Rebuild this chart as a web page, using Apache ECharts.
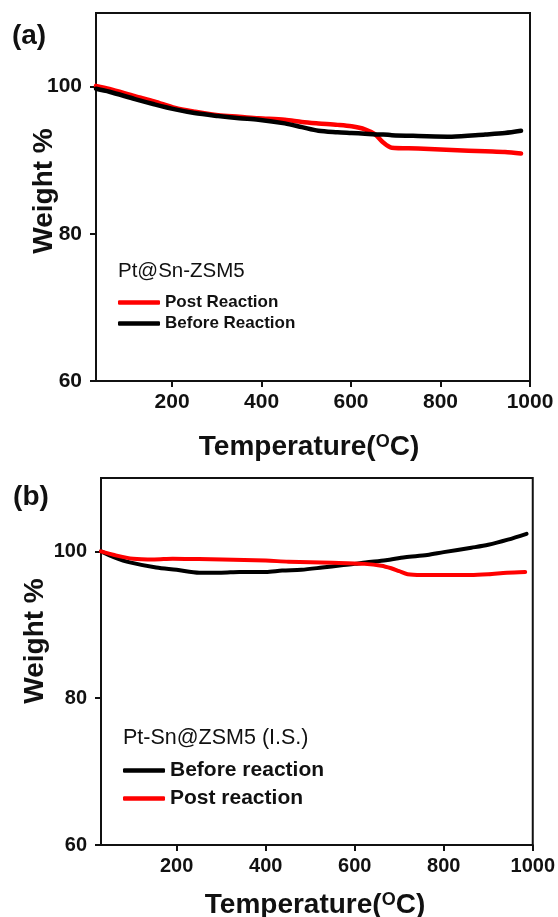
<!DOCTYPE html>
<html>
<head>
<meta charset="utf-8">
<title>TGA curves</title>
<script src="https://cdn.jsdelivr.net/npm/echarts@6/dist/echarts.min.js"></script>
<style>
  html, body { margin: 0; padding: 0; background: #fff; }
  #chart { width: 558px; height: 917px; }
</style>
</head>
<body>
<div id="chart"></div>
<script>
// Panel (a): Pt@Sn-ZSM5
const tempA   = [30, 60, 117, 160, 207, 250, 303, 350, 393, 452, 490, 527, 570, 601, 631, 654, 672, 691, 750, 825, 900, 944, 980];
const postA   = [100.1, 99.7, 98.7, 98.0, 97.1, 96.6, 96.1, 95.9, 95.7, 95.5, 95.2, 95.0, 94.8, 94.6, 94.2, 93.5, 92.4, 91.7, 91.6, 91.4, 91.2, 91.1, 90.9];
const beforeA = [99.7, 99.3, 98.3, 97.6, 96.9, 96.4, 96.0, 95.7, 95.5, 95.0, 94.5, 94.0, 93.8, 93.7, 93.6, 93.5, 93.5, 93.4, 93.3, 93.2, 93.5, 93.7, 94.0];

// Panel (b): Pt-Sn@ZSM5 (I.S.)
const tempBefB = [30, 60, 95, 154, 200, 251, 300, 341, 400, 437, 480, 527, 570, 600, 624, 670, 713, 763, 800, 862, 900, 944, 986];
const beforeB  = [100, 99.2, 98.5, 97.8, 97.5, 97.1, 97.1, 97.2, 97.2, 97.4, 97.5, 97.8, 98.1, 98.3, 98.5, 98.8, 99.2, 99.5, 99.9, 100.5, 100.9, 101.6, 102.4];
const tempPostB = [30, 60, 102, 150, 191, 250, 303, 400, 451, 550, 622, 660, 682, 700, 719, 750, 786, 860, 900, 942, 983];
const postB     = [100, 99.5, 99.0, 98.9, 99.0, 98.95, 98.9, 98.75, 98.6, 98.45, 98.3, 98.05, 97.7, 97.3, 96.9, 96.8, 96.8, 96.8, 96.9, 97.1, 97.2];

// Axis ticks
const xTicks = [200, 400, 600, 800, 1000];
const yTicks = [60, 80, 100];

const FONT = "'Liberation Sans', Arial, Helvetica, sans-serif";
const INK = '#111';
const RED = '#ff0000';
const BLACK = '#000000';

const zip = (xs, ys) => xs.map((x, i) => [x, ys[i]]);
const plain = v => String(v);

function xAxisFor(gridIndex, labelSize) {
  return {
    type: 'value', gridIndex, min: 30, max: 1000,
    axisLine: { show: true, lineStyle: { color: INK, width: 2 } },
    axisTick: { show: true, inside: false, length: 6, customValues: xTicks, lineStyle: { color: INK, width: 2 } },
    axisLabel: { customValues: xTicks, formatter: plain, margin: 11, fontSize: labelSize, fontWeight: 'bold', fontFamily: FONT, color: INK },
    splitLine: { show: false }
  };
}
function yAxisFor(gridIndex, labelSize) {
  return {
    type: 'value', gridIndex, min: 60, max: 110,
    axisLine: { show: true, lineStyle: { color: INK, width: 2 } },
    axisTick: { show: true, inside: false, length: 6, customValues: yTicks, lineStyle: { color: INK, width: 2 } },
    axisLabel: { customValues: yTicks, formatter: plain, margin: 14, fontSize: labelSize, fontWeight: 'bold', fontFamily: FONT, color: INK },
    splitLine: { show: false }
  };
}
function lineSeries(name, data, color, width, xi) {
  return {
    type: 'line', name, data, xAxisIndex: xi, yAxisIndex: xi,
    showSymbol: false, smooth: 0.3, color,
    lineStyle: { color, width, cap: 'round', join: 'round' }
  };
}
function textEl(text, x, y, size, weight, extra) {
  return Object.assign({
    type: 'text', x, y, silent: true,
    style: { text, fontSize: size, fontWeight: weight, fontFamily: FONT, fill: INK, align: 'center', verticalAlign: 'middle' }
  }, extra || {});
}
const supRich = { sup: { fontSize: 18, fontWeight: 'bold', fontFamily: FONT, fill: INK, verticalAlign: 'top' } };

const chart = echarts.init(document.getElementById('chart'), null, { renderer: 'canvas' });
chart.setOption({
  animation: false,
  backgroundColor: '#fff',
  grid: [
    { left: 96, top: 13, width: 434, height: 368, show: true, borderColor: INK, borderWidth: 2, containLabel: false },
    { left: 101, top: 478, width: 435, height: 367, show: true, borderColor: INK, borderWidth: 2, containLabel: false }
  ],
  xAxis: [xAxisFor(0, 21), xAxisFor(1, 20)],
  yAxis: [yAxisFor(0, 21), yAxisFor(1, 20)],
  legend: [
    {
      data: ['Post Reaction', 'Before Reaction'], orient: 'vertical', left: 118, top: 294, padding: 0,
      itemWidth: 42, itemHeight: 4.5, itemGap: 4, icon: 'roundRect', selectedMode: false,
      textStyle: { fontSize: 17, fontWeight: 'bold', fontFamily: FONT, color: INK }
    },
    {
      data: ['Before reaction', 'Post reaction'], orient: 'vertical', left: 123, top: 760, padding: 0,
      itemWidth: 42, itemHeight: 4.5, itemGap: 7, icon: 'roundRect', selectedMode: false,
      textStyle: { fontSize: 21, fontWeight: 'bold', fontFamily: FONT, color: INK }
    }
  ],
  series: [
    lineSeries('Post Reaction', zip(tempA, postA), RED, 4.5, 0),
    lineSeries('Before Reaction', zip(tempA, beforeA), BLACK, 4.5, 0),
    lineSeries('Before reaction', zip(tempBefB, beforeB), BLACK, 4, 1),
    lineSeries('Post reaction', zip(tempPostB, postB), RED, 4, 1)
  ],
  graphic: [
    textEl('(a)', 29, 36, 28, 'bold'),
    textEl('(b)', 31, 497, 28, 'bold'),
    textEl('Weight %', 44, 191, 28, 'bold', { rotation: Math.PI / 2 }),
    textEl('Weight %', 35, 641, 28, 'bold', { rotation: Math.PI / 2 }),
    {
      type: 'text', x: 309, y: 447, silent: true,
      style: { text: 'Temperature({sup|O}C)', rich: supRich, fontSize: 28, fontWeight: 'bold', fontFamily: FONT, fill: INK, align: 'center', verticalAlign: 'middle' }
    },
    {
      type: 'text', x: 315, y: 905, silent: true,
      style: { text: 'Temperature({sup|O}C)', rich: supRich, fontSize: 28, fontWeight: 'bold', fontFamily: FONT, fill: INK, align: 'center', verticalAlign: 'middle' }
    },
    {
      type: 'text', x: 118, y: 271, silent: true,
      style: { text: 'Pt@Sn-ZSM5', fontSize: 20.5, fontFamily: FONT, fill: INK, align: 'left', verticalAlign: 'middle' }
    },
    {
      type: 'text', x: 123, y: 738, silent: true,
      style: { text: 'Pt-Sn@ZSM5 (I.S.)', fontSize: 21.5, fontFamily: FONT, fill: INK, align: 'left', verticalAlign: 'middle' }
    }
  ]
});
</script>
</body>
</html>
